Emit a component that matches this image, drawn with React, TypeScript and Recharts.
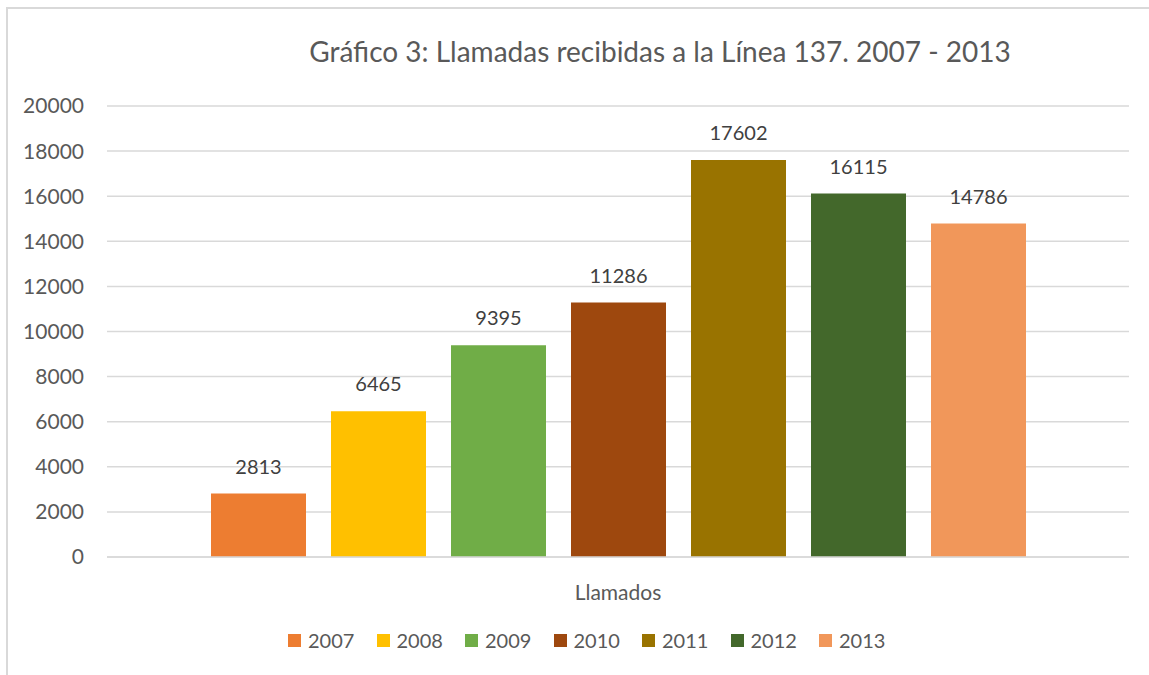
import React from "react";
import { Bar, BarChart, CartesianGrid, LabelList, XAxis, YAxis } from "recharts";

const categories = ["Llamados"];
const years = ["2007", "2008", "2009", "2010", "2011", "2012", "2013"];
const calls = [2813, 6465, 9395, 11286, 17602, 16115, 14786];
const colors = ["#ED7D31", "#FFC000", "#70AD47", "#9E480E", "#997300", "#43682B", "#F1975A"];
const yTicks = [0, 2000, 4000, 6000, 8000, 10000, 12000, 14000, 16000, 18000, 20000];

const data = categories.map((name) => {
    const row: Record<string, string | number> = { name };
    years.forEach((y, i) => (row[y] = calls[i]));
    return row;
});

const font = "Lato, 'Open Sans', sans-serif";

function YearLegend() {
    return (
        <div style={{ position: "absolute", left: 288, top: 628, display: "flex", fontFamily: font, fontSize: 20, color: "#595959" }}>
            {years.map((y, i) => (
                <div key={y} style={{ display: "flex", alignItems: "center", width: 88.5 }}>
                    <span style={{ width: 13, height: 13, background: colors[i], marginRight: 7 }} />
                    <span>{y}</span>
                </div>
            ))}
        </div>
    );
}

export default function App() {
    return (
        <div style={{ position: "absolute", left: 0, top: 0, width: 1149, height: 675, overflow: "hidden", background: "#fff" }}>
            <div style={{ position: "absolute", left: 6, top: 7, width: 1300, height: 800, border: "2px solid #D9D9D9" }} />
            <div style={{ position: "absolute", left: 0, top: 34, width: 1320, textAlign: "center", fontFamily: font, fontSize: 28, color: "#595959" }}>
                Gráfico 3: Llamadas recibidas a la Línea 137. 2007 - 2013
            </div>
            <div style={{ position: "absolute", left: 0, top: 0 }}>
                <BarChart width={1149} height={675} data={data} margin={{ top: 106, right: 20, left: 0, bottom: 58 }} barSize={95} barGap={25} barCategoryGap={104}>
                    <CartesianGrid vertical={false} stroke="#D9D9D9" strokeWidth={1.5} />
                    <XAxis dataKey="name" height={60} tickLine={false} axisLine={{ stroke: "#D9D9D9", strokeWidth: 1.5 }} tickMargin={22} tick={{ fill: "#595959", fontSize: 21, fontFamily: font }} />
                    <YAxis width={107} domain={[0, 20000]} ticks={yTicks} interval={0} tickLine={false} axisLine={false} tickMargin={17} tick={{ fill: "#595959", fontSize: 21, fontFamily: font }} />
                    {years.map((y, i) => (
                        <Bar key={y} dataKey={y} fill={colors[i]} isAnimationActive={false}>
                            <LabelList dataKey={y} position="top" offset={20} fill="#404040" fontSize={20} fontFamily={font} />
                        </Bar>
                    ))}
                </BarChart>
            </div>
            <YearLegend />
        </div>
    );
}
